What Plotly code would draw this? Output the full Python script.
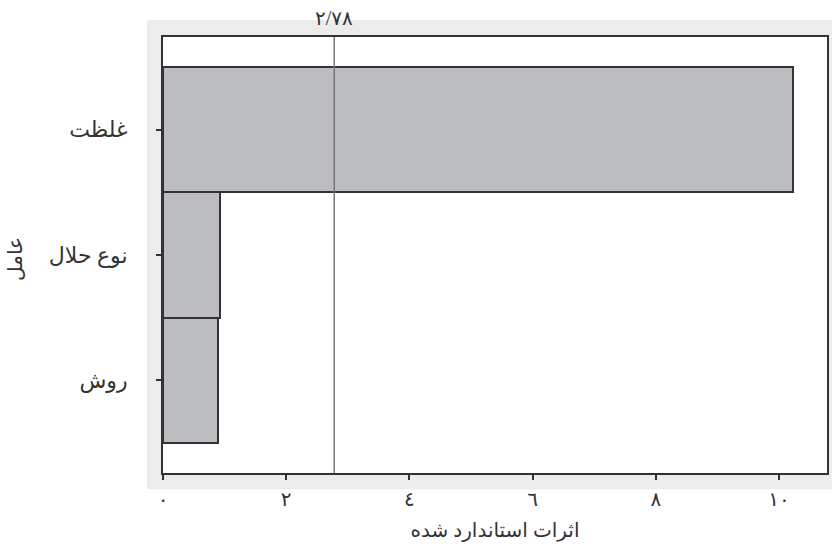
import plotly.graph_objects as go

categories = ["غلظت", "نوع حلال", "روش"]
effects = [10.23, 0.92, 0.89]
threshold = 2.78
threshold_label = "٢/٧٨"
x_tickvals = [0, 2, 4, 6, 8, 10]
x_ticktext = ["٠", "٢", "٤", "٦", "٨", "١٠"]
x_title = "اثرات استاندارد شده"
y_title = "عامل"

FONT = "Liberation Serif, DejaVu Serif, DejaVu Sans, serif"

fig = go.Figure()
fig.add_trace(go.Bar(
    y=categories, x=effects, orientation="h", width=1,
    marker=dict(color="#bcbdc1", line=dict(color="#333333", width=2)),
    showlegend=False,
))
# light grey panel behind the plot frame
fig.add_shape(type="rect", xref="paper", yref="paper",
              x0=-0.024, x1=1.01, y0=-0.037, y1=1.039,
              fillcolor="#ececec", line=dict(width=0), layer="below")
# white plotting area
fig.add_shape(type="rect", xref="paper", yref="paper",
              x0=0, x1=1, y0=0, y1=1,
              fillcolor="white", line=dict(width=0), layer="below")
fig.add_shape(type="line", x0=threshold, x1=threshold, y0=0, y1=1,
              xref="x", yref="paper", line=dict(color="#777777", width=1.5),
              layer="above")
fig.add_annotation(x=threshold, xref="x", y=1.0, yref="paper",
                   text=threshold_label, showarrow=False, yanchor="bottom",
                   yshift=6, font=dict(family=FONT, size=20, color="#333333"))
fig.add_annotation(x=-0.222, xref="paper", y=0.49, yref="paper",
                   text=y_title, showarrow=False, textangle=-90,
                   xanchor="center", yanchor="middle",
                   font=dict(family=FONT, size=20, color="#333333"))

fig.update_layout(
    width=832, height=554,
    margin=dict(l=163, r=3, t=37, b=81),
    paper_bgcolor="white", plot_bgcolor="white",
    font=dict(family=FONT, size=20, color="#333333"),
    bargap=0,
)
fig.update_xaxes(
    range=[0, 10.78], tickvals=x_tickvals, ticktext=x_ticktext,
    ticks="outside", ticklen=5, tickwidth=2, tickcolor="#333333",
    showline=True, linecolor="#333333", linewidth=2, mirror=True,
    showgrid=False, zeroline=False,
    tickfont=dict(size=20), ticklabelstandoff=2,
    title=dict(text=x_title, font=dict(size=20), standoff=14),
)
fig.update_yaxes(
    range=[2.74, -0.74], type="category",
    ticks="outside", ticklen=5, tickwidth=2, tickcolor="#333333",
    showline=True, linecolor="#333333", linewidth=2, mirror=True,
    showgrid=False, zeroline=False,
    tickfont=dict(size=22), ticklabelstandoff=24,
)
fig.write_html("out.html")
